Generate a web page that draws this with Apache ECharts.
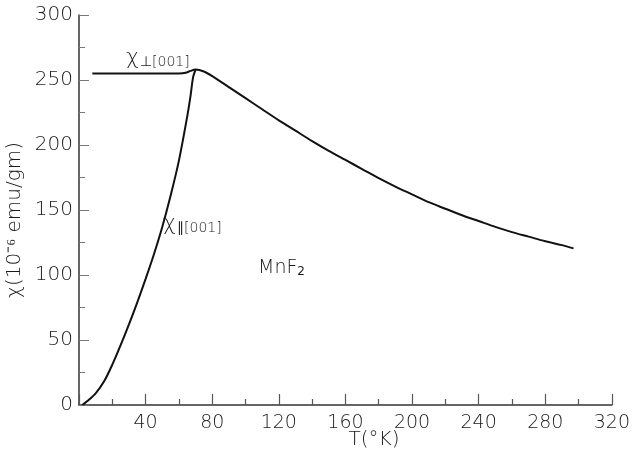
<!DOCTYPE html>
<html>
<head>
<meta charset="utf-8">
<script src="https://cdn.jsdelivr.net/npm/echarts@6/dist/echarts.min.js"></script>
<style>
  html, body { margin: 0; padding: 0; background: #fff; }
  #chart { width: 633px; height: 455px; }
</style>
</head>
<body>
<div id="chart"></div>
<script>
// Magnetic susceptibility of MnF2 versus temperature
var tPerp = [8, 20, 40, 60, 64, 67, 70, 75, 80, 90, 100, 110, 120, 130, 140, 150, 160, 170, 180, 190, 200, 210, 220, 230, 240, 250, 260, 270, 280, 290, 297];
var chiPerp = [255, 255, 255, 255, 255.5, 257, 258, 256.5, 253, 244.5, 236, 227.5, 219, 211, 203, 195.5, 188.5, 181.5, 174.5, 168, 162, 156, 151, 146, 141.5, 137, 133, 129.5, 126, 123, 120.5];

var tPar = [2, 5, 10, 15, 20, 25, 30, 35, 40, 45, 50, 55, 60, 65, 67, 68.5, 70];
var chiPar = [0, 3, 9, 18, 31, 46, 62, 79, 97, 116, 137, 161, 188, 222, 238, 252, 258];

var xTicks = [0, 40, 80, 120, 160, 200, 240, 280, 320];
var yTicks = [0, 50, 100, 150, 200, 250, 300];

function pairs(xs, ys) {
  return xs.map(function (x, i) { return [x, ys[i]]; });
}

var FONT = 'DejaVu Sans';
var INK = '#1a1a1a';

var chart = echarts.init(document.getElementById('chart'), null, { renderer: 'canvas' });

chart.setOption({
  animation: false,
  backgroundColor: '#fff',
  grid: { left: 79, right: 20, top: 15, bottom: 50, containLabel: false },
  xAxis: {
    type: 'value',
    min: xTicks[0],
    max: xTicks[xTicks.length - 1],
    interval: 40,
    axisLine: { show: true, onZero: false, lineStyle: { color: '#333', width: 1.5 } },
    axisTick: { show: true, inside: true, length: 11, lineStyle: { color: '#555', width: 1.2 } },
    minorTick: { show: true, splitNumber: 2, length: 6, lineStyle: { color: '#555', width: 1.2 } },
    splitLine: { show: false },
    axisLabel: {
      margin: 9,
      fontFamily: FONT, fontSize: 19, fontWeight: 200, color: INK,
      formatter: function (v) { return v === 0 ? '' : String(v); }
    }
  },
  yAxis: {
    type: 'value',
    min: yTicks[0],
    max: yTicks[yTicks.length - 1],
    interval: 50,
    axisLine: { show: true, onZero: false, lineStyle: { color: '#333', width: 1.5 } },
    axisTick: { show: true, inside: true, length: 10, lineStyle: { color: '#777', width: 1 } },
    minorTick: { show: true, splitNumber: 2, length: 6, lineStyle: { color: '#777', width: 1 } },
    splitLine: { show: false },
    axisLabel: {
      margin: 6,
      fontFamily: FONT, fontSize: 20, fontWeight: 200, color: INK
    }
  },
  series: [
    {
      name: 'perp',
      type: 'line',
      data: pairs(tPerp, chiPerp),
      smooth: 0.3,
      showSymbol: false,
      lineStyle: { color: '#111', width: 2 },
      z: 3
    },
    {
      name: 'par',
      type: 'line',
      data: pairs(tPar, chiPar),
      smooth: 0.3,
      showSymbol: false,
      lineStyle: { color: '#111', width: 2 },
      z: 3
    }
  ],
  graphic: [
    {
      type: 'text', left: 126, top: 47,
      style: {
        text: '{c|χ}{s|⊥[001]}',
        rich: {
          c: { fontFamily: FONT, fontSize: 22, fontWeight: 200, fill: INK },
          s: { fontFamily: FONT, fontSize: 14, fontWeight: 200, fill: INK, verticalAlign: 'bottom', padding: [0, 0, 0, 1] }
        }
      }
    },
    {
      type: 'text', left: 163, top: 213,
      style: {
        text: '{c|χ}{s|∥[001]}',
        rich: {
          c: { fontFamily: FONT, fontSize: 22, fontWeight: 200, fill: INK },
          s: { fontFamily: FONT, fontSize: 14, fontWeight: 200, fill: INK, verticalAlign: 'bottom', padding: [0, 0, 0, 1] }
        }
      }
    },
    {
      type: 'text', left: 258, top: 259,
      style: {
        text: '{m|MnF}{s|2}',
        rich: {
          m: { fontFamily: FONT, fontSize: 19, fontWeight: 200, fill: INK },
          s: { fontFamily: FONT, fontSize: 12, fill: INK, verticalAlign: 'bottom' }
        }
      }
    },
    {
      type: 'text', x: 374, y: 440,
      style: {
        text: 'T(°K)', fontFamily: FONT, fontSize: 20, fontWeight: 200, fill: INK,
        align: 'center', verticalAlign: 'middle'
      }
    },
    {
      type: 'text', x: 15, y: 220, rotation: Math.PI / 2,
      style: {
        text: 'χ(10⁻⁶ emu/gm)', fontFamily: FONT, fontSize: 20, fontWeight: 200, fill: INK,
        align: 'center', verticalAlign: 'middle'
      }
    }
  ]
});
</script>
</body>
</html>
